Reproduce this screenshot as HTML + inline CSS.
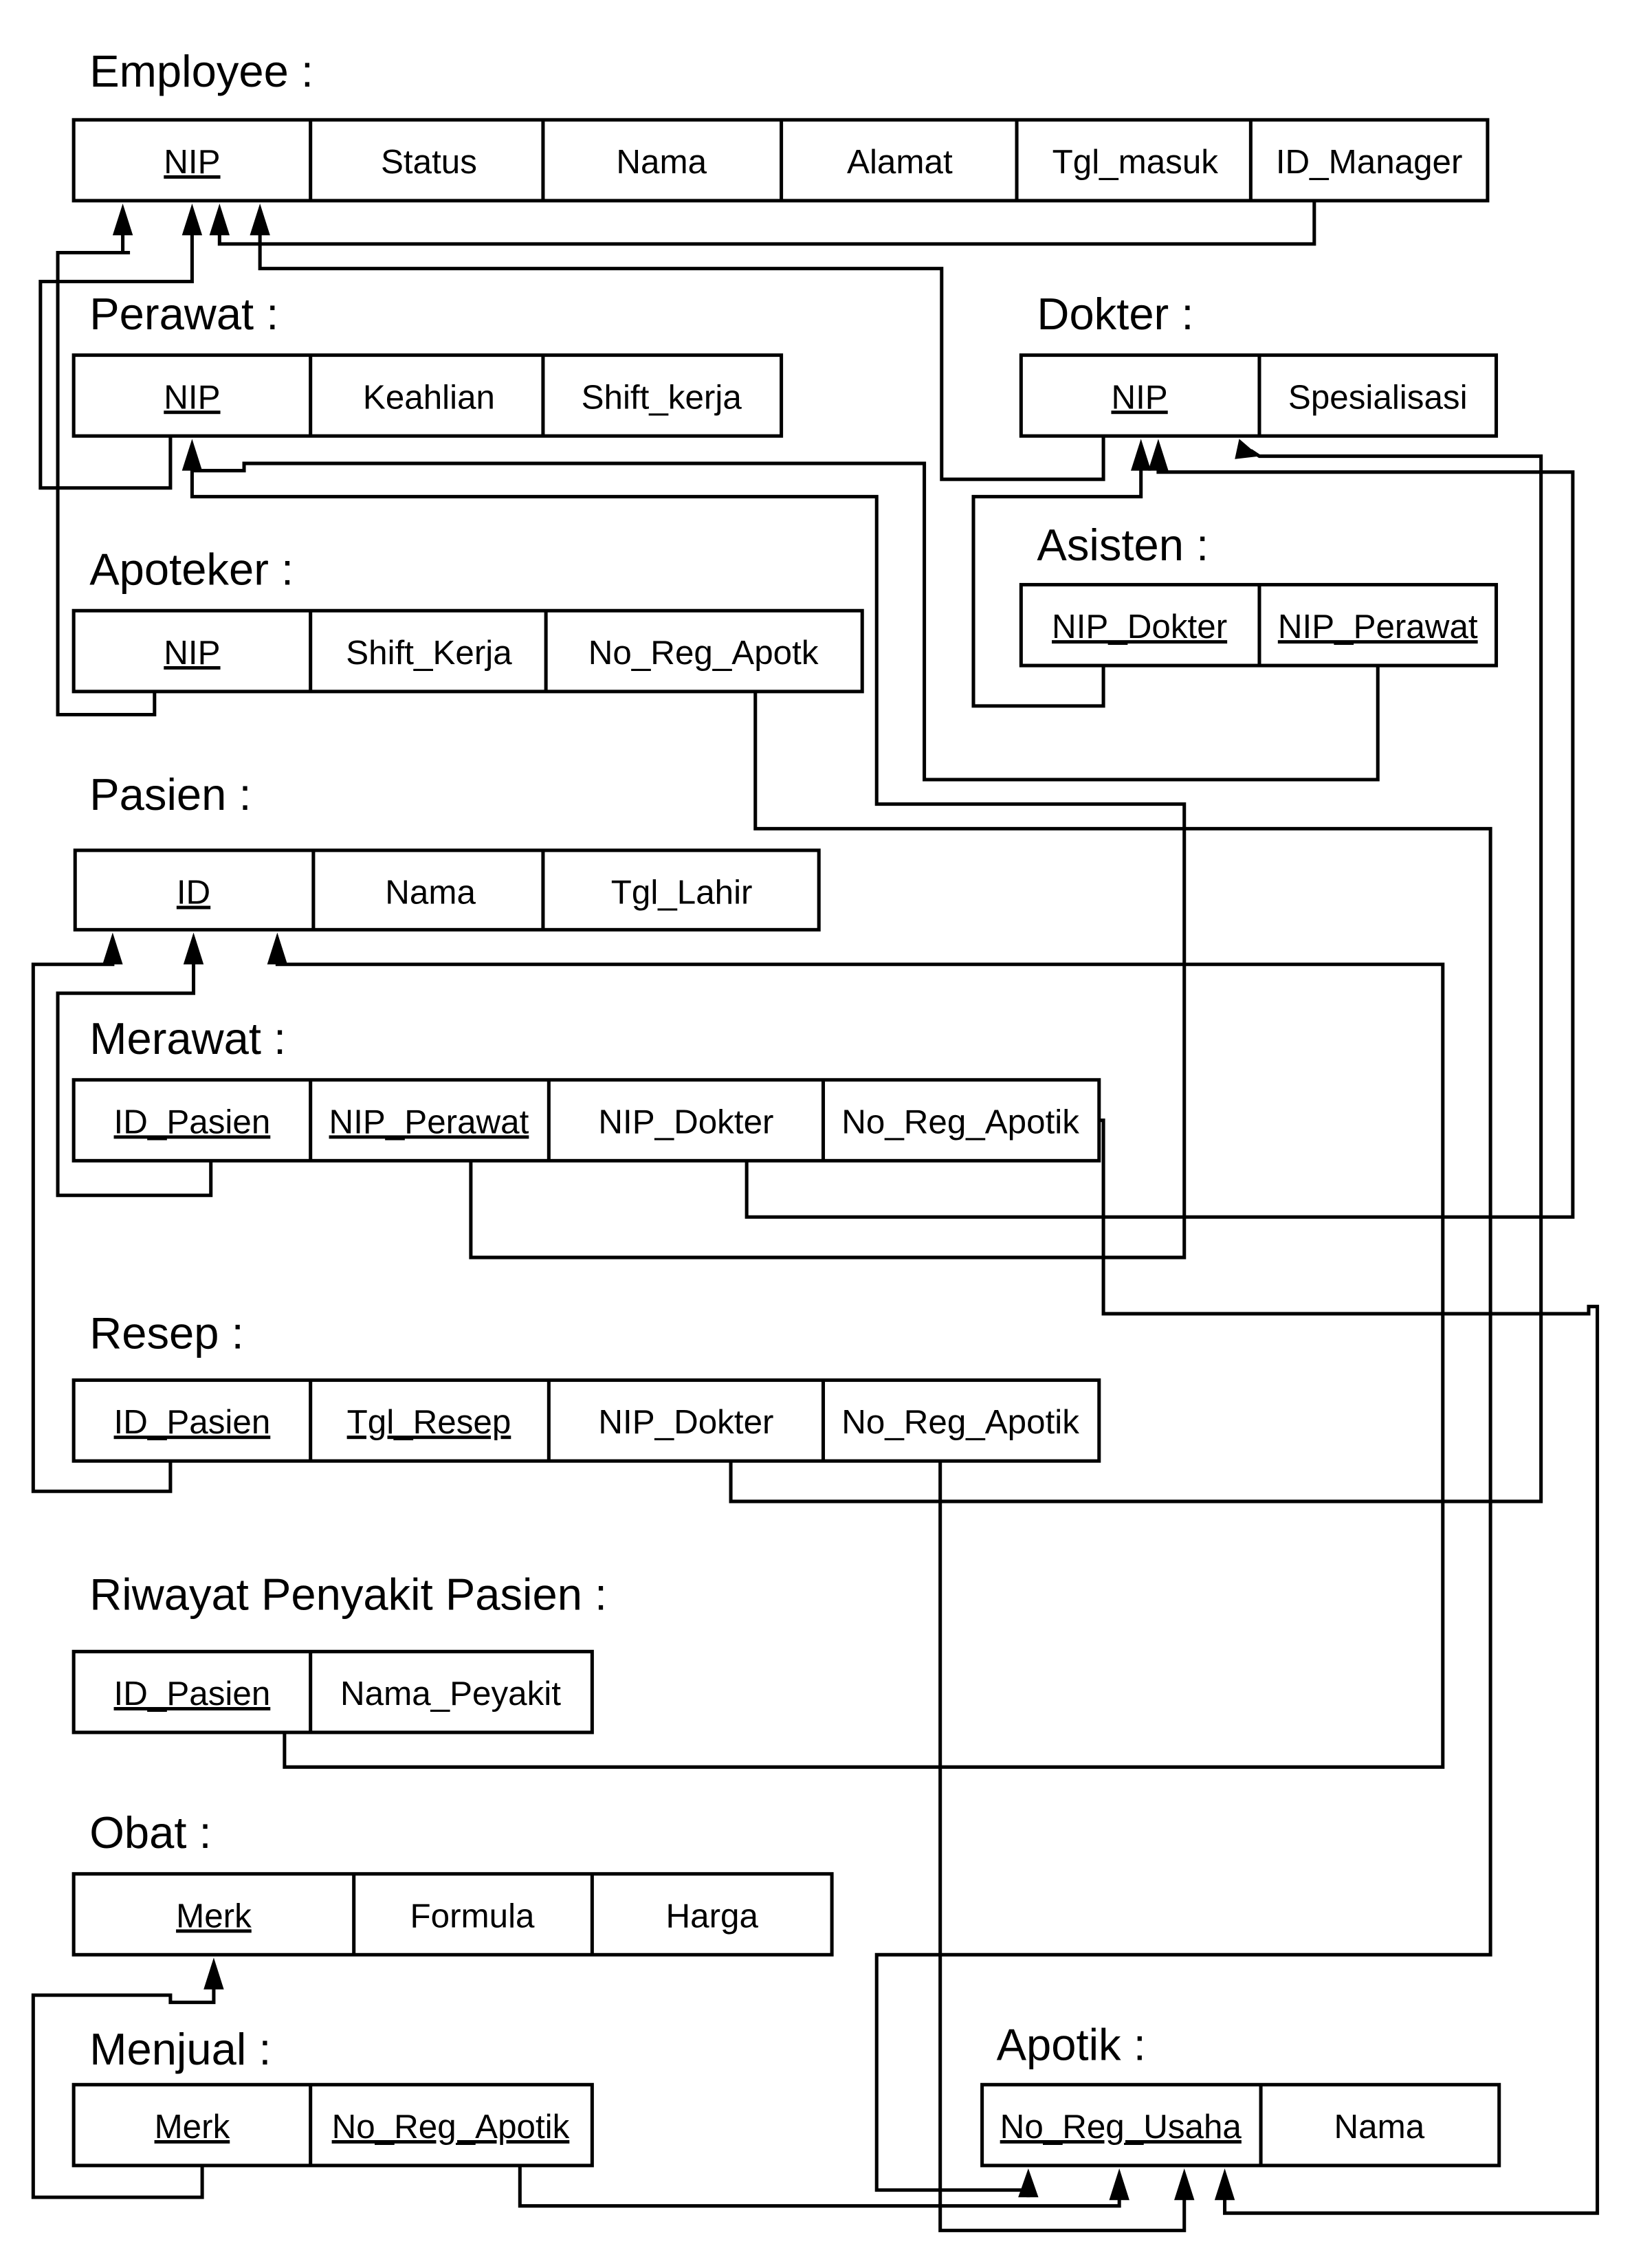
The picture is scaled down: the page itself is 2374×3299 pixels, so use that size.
<!DOCTYPE html>
<html><head><meta charset="utf-8"><style>
html,body{margin:0;padding:0;background:#fff;}
svg{display:block;}
text{font-family:"Liberation Sans",Arial,sans-serif;fill:#000;}
.t{font-size:31px;}
.a{font-size:23.5px;text-anchor:middle;}
.u{text-decoration:underline;}
</style></head><body>
<svg width="2374" height="3299" viewBox="0 0 1130 1571" preserveAspectRatio="none" xmlns="http://www.w3.org/2000/svg">
<g fill="none" stroke="#000" stroke-width="2.4" stroke-linejoin="miter">
<rect x="51" y="83" width="979" height="56"/>
<path d="M215 83V139M376 83V139M541 83V139M704 83V139M866 83V139"/>
<rect x="51" y="246" width="490" height="56"/>
<path d="M215 246V302M376 246V302"/>
<rect x="707" y="246" width="329" height="56"/>
<path d="M872 246V302"/>
<rect x="707" y="405" width="329" height="56"/>
<path d="M872 405V461"/>
<rect x="51" y="423" width="546" height="56"/>
<path d="M215 423V479M378 423V479"/>
<rect x="52" y="589" width="515" height="55"/>
<path d="M217 589V644M376 589V644"/>
<rect x="51" y="748" width="710" height="56"/>
<path d="M215 748V804M380 748V804M570 748V804"/>
<rect x="51" y="956" width="710" height="56"/>
<path d="M215 956V1012M380 956V1012M570 956V1012"/>
<rect x="51" y="1144" width="359" height="56"/>
<path d="M215 1144V1200"/>
<rect x="51" y="1298" width="525" height="56"/>
<path d="M245 1298V1354M410 1298V1354"/>
<rect x="51" y="1444" width="359" height="56"/>
<path d="M215 1444V1500"/>
<rect x="680" y="1444" width="358" height="56"/>
<path d="M873 1444V1500"/>
<path d="M910 139V169H152V160"/>
<path d="M107 479V495H40V175H90M85 175V160"/>
<path d="M118 302V338H28V195H133V160"/>
<path d="M764 302V332H652V186H180V160"/>
<path d="M764 461V489H674V344H790V324"/>
<path d="M954 461V540H640V321H169V326H133"/>
<path d="M326 804V871H820V557H607V344H133V324"/>
<path d="M523 479V574H1032V1354H607V1517H712V1522"/>
<path d="M517 804V843H1089V327H802V324"/>
<path d="M506 1012V1040H1067V316H872L866 312"/>
<path d="M761 776H764V910H1100V905H1106V1533H848V1522"/>
<path d="M651 1012V1545H820V1522"/>
<path d="M360 1500V1528H775V1522"/>
<path d="M118 1012V1033H23V668H78V666"/>
<path d="M146 804V828H40V688H134V666"/>
<path d="M197 1200V1224H999V668H192V666"/>
<path d="M140 1500V1522H23V1382H118V1387H148V1376"/>
</g>
<g fill="#000">
<polygon points="85,141 78,163 92,163"/>
<polygon points="133,141 126,163 140,163"/>
<polygon points="152,141 145,163 159,163"/>
<polygon points="180,141 173,163 187,163"/>
<polygon points="790,304 783,326 797,326"/>
<polygon points="802,304 795,326 809,326"/>
<polygon points="858,304 855,318 872,316"/>
<polygon points="133,304 126,326 140,326"/>
<polygon points="78,646 71,668 85,668"/>
<polygon points="134,646 127,668 141,668"/>
<polygon points="192,646 185,668 199,668"/>
<polygon points="148,1356 141,1378 155,1378"/>
<polygon points="712,1502 705,1522 719,1522"/>
<polygon points="775,1502 768,1524 782,1524"/>
<polygon points="820,1502 813,1524 827,1524"/>
<polygon points="848,1502 841,1524 855,1524"/>
</g>
<text class="t" x="62" y="60">Employee :</text>
<text class="t" x="62" y="228">Perawat :</text>
<text class="t" x="718" y="228">Dokter :</text>
<text class="t" x="718" y="388">Asisten :</text>
<text class="t" x="62" y="405">Apoteker :</text>
<text class="t" x="62" y="561">Pasien :</text>
<text class="t" x="62" y="730">Merawat :</text>
<text class="t" x="62" y="934">Resep :</text>
<text class="t" x="62" y="1115">Riwayat Penyakit Pasien :</text>
<text class="t" x="62" y="1280">Obat :</text>
<text class="t" x="62" y="1430">Menjual :</text>
<text class="t" x="690" y="1427">Apotik :</text>
<g class="a">
<text class="a u" x="133" y="120">NIP</text>
<text class="a" x="297" y="120">Status</text>
<text class="a" x="458" y="120">Nama</text>
<text class="a" x="623" y="120">Alamat</text>
<text class="a" x="786" y="120">Tgl_masuk</text>
<text class="a" x="948" y="120">ID_Manager</text>
<text class="a u" x="133" y="283">NIP</text>
<text class="a" x="297" y="283">Keahlian</text>
<text class="a" x="458" y="283">Shift_kerja</text>
<text class="a u" x="789" y="283">NIP</text>
<text class="a" x="954" y="283">Spesialisasi</text>
<text class="a u" x="789" y="442">NIP_Dokter</text>
<text class="a u" x="954" y="442">NIP_Perawat</text>
<text class="a u" x="133" y="460">NIP</text>
<text class="a" x="297" y="460">Shift_Kerja</text>
<text class="a" x="487" y="460">No_Reg_Apotk</text>
<text class="a u" x="134" y="626">ID</text>
<text class="a" x="298" y="626">Nama</text>
<text class="a" x="472" y="626">Tgl_Lahir</text>
<text class="a u" x="133" y="785">ID_Pasien</text>
<text class="a u" x="297" y="785">NIP_Perawat</text>
<text class="a" x="475" y="785">NIP_Dokter</text>
<text class="a" x="665" y="785">No_Reg_Apotik</text>
<text class="a u" x="133" y="993">ID_Pasien</text>
<text class="a u" x="297" y="993">Tgl_Resep</text>
<text class="a" x="475" y="993">NIP_Dokter</text>
<text class="a" x="665" y="993">No_Reg_Apotik</text>
<text class="a u" x="133" y="1181">ID_Pasien</text>
<text class="a" x="312" y="1181">Nama_Peyakit</text>
<text class="a u" x="148" y="1335">Merk</text>
<text class="a" x="327" y="1335">Formula</text>
<text class="a" x="493" y="1335">Harga</text>
<text class="a u" x="133" y="1481">Merk</text>
<text class="a u" x="312" y="1481">No_Reg_Apotik</text>
<text class="a u" x="776" y="1481">No_Reg_Usaha</text>
<text class="a" x="955" y="1481">Nama</text>
</g>
</svg>
</body></html>
